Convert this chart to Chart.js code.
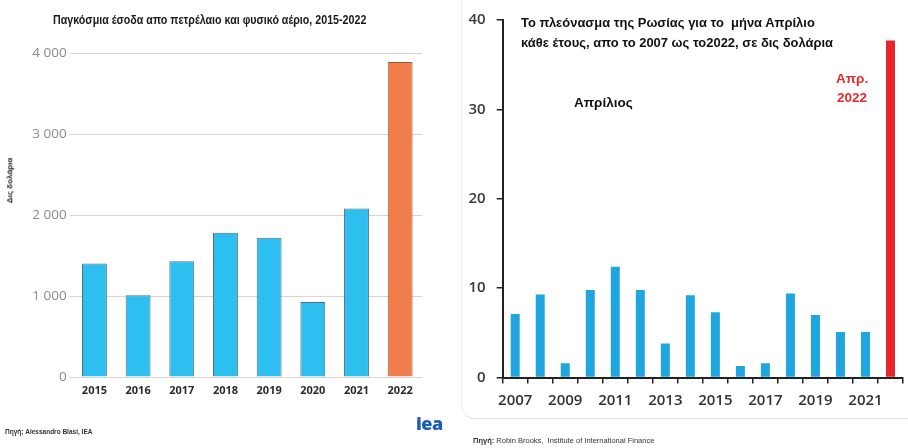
<!DOCTYPE html>
<html>
<head>
<meta charset="utf-8">
<script src="https://cdn.jsdelivr.net/npm/chart.js@4.4.0/dist/chart.umd.min.js"></script>
<style>
  html, body { margin: 0; padding: 0; background: #fff; }
  body { width: 908px; height: 448px; position: relative; overflow: hidden; font-family: "Liberation Sans", Arial, sans-serif; }
  canvas { position: absolute; top: 0; }
  #leftChart { left: 0; }
  #rightChart { left: 460px; }
  .txt { position: absolute; white-space: nowrap; }
  .panel { position: absolute; left: 461px; top: -2px; width: 450px; height: 420px; border-left: 1px solid #ececec; border-bottom: 1px solid #e2e2e2; border-bottom-left-radius: 14px; }
</style>
</head>
<body>
<div class="panel"></div>
<canvas id="leftChart" width="460" height="448"></canvas>
<canvas id="rightChart" width="448" height="448"></canvas>

<div class="txt" style="left:53px; top:13px; font-weight:bold; font-size:12px; color:#1a1a1a; transform-origin:left; transform:scaleX(0.89);">Παγκόσμια έσοδα απο πετρέλαιο και φυσικό αέριο, 2015-2022</div>
<div class="txt" style="left:-13px; top:176px; font-weight:bold; font-size:8px; color:#222; transform:rotate(-90deg);">Δις δολάρια</div>
<div class="txt" style="left:5px; top:428px; font-weight:bold; font-size:6.5px; color:#333;">Πηγή; Alessandro Blasi, IEA</div>
<div class="txt" style="left:416px; top:411px; font-family:'Open Sans', sans-serif; font-weight:800; font-size:18px; color:#1d5fae; letter-spacing:-0.5px;">iea</div>

<div class="txt" style="left:521px; top:13px; font-weight:bold; font-size:13.5px; line-height:20px; color:#111; transform-origin:left; transform:scaleX(0.96);">Το πλεόνασμα της Ρωσίας για το&nbsp; μήνα Απρίλιο<br>κάθε έτους, απο το 2007 ως το2022, σε δις δολάρια</div>
<div class="txt" style="left:574px; top:95px; font-weight:bold; font-size:13.5px; color:#111;">Απρίλιος</div>
<div class="txt" style="left:836px; top:69px; font-weight:bold; font-size:13.5px; line-height:19px; color:#e8292b; text-align:center;">Απρ.<br>2022</div>
<div class="txt" style="left:473px; top:436px; font-size:7.5px; color:#333;"><b>Πηγή:</b> Robin Brooks,&nbsp; Institute of International Finance</div>

<script>
// left chart: global oil & gas revenue
const leftYears = ['2015', '2016', '2017', '2018', '2019', '2020', '2021', '2022'];
const leftRevenue = [1400, 1010, 1430, 1780, 1720, 925, 2080, 3890];
const leftYTicks = ['0', '1 000', '2 000', '3 000', '4 000'];

// right chart: Russian surplus in April
const rightYears = ['2007', '2008', '2009', '2010', '2011', '2012', '2013', '2014',
                    '2015', '2016', '2017', '2018', '2019', '2020', '2021', '2022'];
const rightSurplus = [7.1, 9.3, 1.6, 9.8, 12.4, 9.8, 3.8, 9.2, 7.3, 1.3, 1.6, 9.4, 7.0, 5.1, 5.1, 37.7];
const rightXTicks = ['2007', '', '2009', '', '2011', '', '2013', '', '2015', '', '2017', '', '2019', '', '2021', ''];
const rightYTicks = ['0', '10', '20', '30', '40'];

function createLeftChart() {
    const ctx = document.getElementById('leftChart');
    const last = leftRevenue.length - 1;

    new Chart(ctx, {
        type: 'bar',
        data: {
            labels: leftYears,
            datasets: [{
                data: leftRevenue,
                backgroundColor: leftRevenue.map((v, i) => i === last ? '#f27d4c' : '#2cbff0'),
                borderColor: leftRevenue.map((v, i) => i === last ? '#9c5a3c' : '#4f6f80'),
                borderWidth: 1,
                barPercentage: 0.57,
                categoryPercentage: 1
            }]
        },
        options: {
            responsive: false,
            animation: false,
            layout: { padding: { left: 0, right: 38, top: 53, bottom: 41 } },
            plugins: { legend: { display: false }, tooltip: { enabled: false } },
            scales: {
                x: {
                    afterFit: (s) => { s.height = 30; },
                    grid: { display: false, drawTicks: false },
                    border: { display: false },
                    ticks: {
                        padding: 7,
                        color: '#2a2a2a',
                        font: { family: 'Open Sans', size: 11, weight: 'bold' }
                    }
                },
                y: {
                    min: 0,
                    max: 4000,
                    afterFit: (s) => { s.width = 72.6; },
                    grid: { color: '#dcd3ce', lineWidth: 1, tickLength: 3 },
                    border: { display: false },
                    ticks: {
                        stepSize: 1000,
                        padding: 3,
                        color: '#8a8a8a',
                        font: { family: 'Open Sans', size: 13.5 },
                        callback: (v, i) => leftYTicks[i]
                    }
                }
            }
        }
    });
}

function createRightChart() {
    const ctx = document.getElementById('rightChart');
    const last = rightSurplus.length - 1;

    new Chart(ctx, {
        type: 'bar',
        data: {
            labels: rightYears,
            datasets: [{
                data: rightSurplus,
                backgroundColor: rightSurplus.map((v, i) => i === last ? '#e4262a' : '#1fa6df'),
                borderWidth: 0,
                barPercentage: 0.36,
                categoryPercentage: 1
            }]
        },
        options: {
            responsive: false,
            animation: false,
            layout: { padding: { left: 0, right: 5, top: 15, bottom: 40.5 } },
            plugins: { legend: { display: false }, tooltip: { enabled: false } },
            scales: {
                x: {
                    afterFit: (s) => { s.height = 30; },
                    grid: { offset: true, drawOnChartArea: false, tickLength: 6, color: '#222', lineWidth: 1.5 },
                    border: { display: true, color: '#222', width: 2 },
                    ticks: {
                        autoSkip: false,
                        maxRotation: 0,
                        padding: 8,
                        color: '#333',
                        font: { family: 'Open Sans', size: 15, weight: '600' },
                        callback: (v, i) => rightXTicks[i]
                    }
                },
                y: {
                    min: 0,
                    max: 40,
                    afterFit: (s) => { s.width = 42.7; },
                    grid: { drawOnChartArea: false, tickLength: 6, color: '#222', lineWidth: 1.5 },
                    border: { display: true, color: '#222', width: 2 },
                    ticks: {
                        stepSize: 10,
                        padding: 11,
                        color: '#3a3a3a',
                        font: { family: 'Open Sans', size: 15, weight: '600' },
                        callback: (v, i) => rightYTicks[i]
                    }
                }
            }
        }
    });
}

document.addEventListener('DOMContentLoaded', () => {
    createLeftChart();
    createRightChart();
});
</script>
</body>
</html>
